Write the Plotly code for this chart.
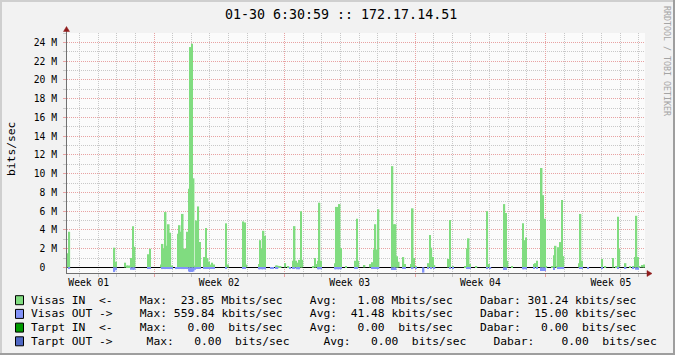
import plotly.graph_objects as go

# ---------------- data ----------------
title_text = "01-30 6:30:59 :: 172.17.14.51"
y_label = "bits/sec"
watermark = "RRDTOOL / TOBI OETIKER"

STEP_H = 2          # RRD consolidation step (hours)
span_h = 744        # graph span (hours)
week_start_h = [112, 280, 448, 616]
week_label_h = [28, 196, 364, 532, 700]
week_labels = ["Week 01", "Week 02", "Week 03", "Week 04", "Week 05"]
day_h = [16, 40, 64, 88, 136, 160, 184, 208, 232, 256, 304, 328, 352, 376,
         400, 424, 472, 496, 520, 544, 568, 592, 640, 664, 688, 712, 736]

y_tick_vals = [0, 2, 4, 6, 8, 10, 12, 14, 16, 18, 20, 22, 24]
y_tick_text = ["0\u00a0\u00a0", "2 M", "4 M", "6 M", "8 M", "10 M", "12 M",
               "14 M", "16 M", "18 M", "20 M", "22 M", "24 M"]

# (slot index since graph start, Mbit/s)
visas_in = [
    (0, 1.5), (1, 3.8),
    (30, 2.1), (31, 0.6),
    (37, 0.5), (38, 0.2), (39, 0.2), (40, 0.2), (41, 1.0), (42, 4.4), (43, 2.2),
    (52, 1.4), (53, 2.0),
    (60, 0.3), (61, 2.5), (62, 2.0), (63, 5.9), (64, 2.3), (65, 4.6), (66, 3.7), (67, 0.2),
    (71, 3.6), (72, 4.5), (73, 3.8), (74, 5.7), (75, 2.0), (76, 2.0), (77, 3.8), (78, 8.4),
    (79, 23.5), (80, 23.85), (81, 9.5), (82, 0.2), (83, 5.0), (84, 6.5), (85, 2.7),
    (88, 1.1), (89, 4.2), (90, 1.0), (91, 0.6), (92, 0.3), (93, 0.5), (94, 0.3),
    (102, 4.7), (103, 0.3),
    (113, 4.9), (114, 4.8), (115, 0.3),
    (123, 0.35), (124, 2.9), (125, 2.0), (126, 3.9), (127, 3.35),
    (134, 0.2), (135, 0.2), (136, 0.15), (137, 0.15),
    (140, 0.45), (142, 0.15),
    (145, 0.7), (146, 4.4), (147, 0.7), (148, 0.5), (149, 0.8), (150, 6.0), (151, 0.8),
    (158, 0.15), (159, 1.0), (160, 0.35), (161, 0.7), (162, 6.9), (163, 0.7),
    (172, 0.45), (173, 6.45), (174, 6.45), (175, 6.75), (176, 2.05),
    (179, 0.15),
    (185, 0.7), (186, 5.2), (187, 0.7),
    (191, 0.25),
    (195, 0.35), (196, 0.55), (197, 1.9), (198, 4.6), (199, 1.9), (200, 6.2),
    (209, 10.8), (210, 4.6), (211, 4.6), (212, 1.2), (213, 0.6),
    (216, 1.1), (217, 0.35),
    (221, 0.35), (222, 6.3), (223, 1.0), (224, 0.15),
    (232, 0.45), (233, 3.45), (234, 2.1), (235, 1.1), (236, 0.25),
    (245, 0.9), (246, 5.05), (248, 0.15),
    (256, 0.15), (257, 2.05), (258, 3.1), (259, 0.35), (263, 0.15),
    (270, 6.0), (271, 0.35),
    (281, 6.75), (282, 5.8), (283, 0.7), (286, 0.15),
    (293, 4.7), (294, 2.9), (295, 3.2),
    (300, 0.35), (301, 0.45), (302, 0.7),
    (305, 10.6), (306, 7.7), (307, 5.2), (308, 0.15),
    (312, 0.15), (313, 1.3), (314, 2.3), (315, 0.15), (316, 2.15), (317, 2.7), (318, 7.2), (319, 1.2),
    (329, 0.45), (330, 5.7), (331, 0.7),
    (344, 0.9), (346, 0.15),
    (351, 1.0), (353, 0.15), (354, 5.4), (355, 1.95),
    (359, 0.45), (362, 0.15), (364, 0.15), (365, 1.1), (366, 5.5), (367, 1.1), (368, 0.15),
    (370, 0.25), (371, 0.3),
]

visas_out = [
    (1, 0.18),
    (30, 0.5), (31, 0.3),
    (41, 0.25), (42, 0.25), (43, 0.25),
    (52, 0.15), (53, 0.15),
    (61, 0.18), (62, 0.18), (63, 0.18), (64, 0.18), (65, 0.18), (66, 0.18), (67, 0.18),
    (70, 0.18), (71, 0.18), (72, 0.18), (73, 0.18), (74, 0.18), (75, 0.18), (76, 0.18), (77, 0.18),
    (78, 0.45), (79, 0.5), (80, 0.5), (81, 0.45), (82, 0.25),
    (83, 0.15), (84, 0.15), (85, 0.15),
    (88, 0.15), (89, 0.15), (90, 0.15), (91, 0.15), (92, 0.15), (93, 0.15), (94, 0.15),
    (102, 0.15),
    (113, 0.15), (114, 0.15),
    (123, 0.2), (124, 0.2), (125, 0.2), (126, 0.2), (127, 0.2),
    (131, 0.1), (132, 0.1), (134, 0.1), (135, 0.1),
    (143, 0.15), (145, 0.15), (146, 0.15),
    (148, 0.2), (149, 0.2),
    (161, 0.2), (162, 0.2), (163, 0.2),
    (172, 0.2), (173, 0.2), (174, 0.2), (175, 0.2), (176, 0.2),
    (185, 0.18), (186, 0.18),
    (196, 0.15), (197, 0.15), (198, 0.15), (199, 0.15), (200, 0.15),
    (209, 0.28), (210, 0.28), (211, 0.28),
    (216, 0.15), (217, 0.15),
    (222, 0.18), (224, 0.15),
    (229, 0.56),
    (232, 0.15), (234, 0.18), (236, 0.15),
    (246, 0.15), (248, 0.15),
    (257, 0.18), (258, 0.18), (259, 0.18),
    (270, 0.18), (272, 0.15),
    (281, 0.28), (282, 0.28),
    (293, 0.2), (294, 0.2), (295, 0.2),
    (300, 0.18), (302, 0.18),
    (305, 0.39), (306, 0.39), (307, 0.39),
    (313, 0.28),
    (316, 0.18), (317, 0.18), (318, 0.18), (319, 0.18),
    (330, 0.15), (331, 0.15),
    (335, 0.15),
    (344, 0.18),
    (354, 0.15),
    (359, 0.15),
    (364, 0.15), (366, 0.25), (367, 0.25),
]

legend_colors = ["#80DC80", "#8292F8", "#009A00", "#5068C4"]
legend_rows = [
    "Visas IN  <-    Max:  23.85 Mbits/sec    Avg:   1.08 Mbits/sec    Dabar: 301.24 kbits/sec",
    "Visas OUT ->    Max: 559.84 kbits/sec    Avg:  41.48 kbits/sec    Dabar:  15.00 kbits/sec",
    "Tarpt IN  <-    Max:   0.00  bits/sec    Avg:   0.00  bits/sec    Dabar:   0.00  bits/sec",
    "Tarpt OUT ->     Max:   0.00  bits/sec     Avg:   0.00  bits/sec    Dabar:    0.00  bits/sec",
]

# ---------------- style ----------------
W, H = 675, 355
L, R, T, B = 67, 30, 33, 82
PW, PH = W - L - R, H - T - B
MONO = "DejaVu Sans Mono"
BACK = "#F2F2F2"
CANVAS = "#FBFBFB"
GRID = "#C8C8C8"
MGRID = "#E8A2A2"
AXIS = "#707070"
ARROW = "#901C1C"


def px(x):
    return (x - L) / PW


def py(y):
    return (H - B - y) / PH


fig = go.Figure()

in_slot = [s for s, v in visas_in]
in_val = [v for s, v in visas_in]
out_slot = [s for s, v in visas_out]
out_val = [v for s, v in visas_out]

fig.add_trace(go.Bar(
    x=[s * STEP_H + STEP_H / 2 for s in in_slot], y=in_val, width=STEP_H,
    marker=dict(color=legend_colors[0], line=dict(width=0)),
    xaxis="x", yaxis="y", hoverinfo="skip", showlegend=False))
fig.add_trace(go.Bar(
    x=[s * STEP_H + STEP_H / 2 for s in out_slot], y=[-v for v in out_val], width=STEP_H,
    marker=dict(color=legend_colors[1], line=dict(width=0)),
    xaxis="x2", yaxis="y", hoverinfo="skip", showlegend=False))

axis_font = dict(family=MONO, size=9.7, color="#000000")

fig.update_layout(
    width=W, height=H,
    margin=dict(l=L, r=R, t=T, b=B, pad=0),
    paper_bgcolor=BACK, plot_bgcolor=CANVAS,
    barmode="overlay", showlegend=False,
    font=dict(family=MONO, size=9.7, color="#000000"),
    xaxis=dict(
        range=[0, span_h], tickmode="array", tickvals=week_label_h, ticktext=week_labels,
        showgrid=False, ticks="", zeroline=False, showline=True, linecolor=AXIS, linewidth=1,
        tickfont=axis_font, ticklabelstandoff=0,
        minor=dict(tickmode="array", tickvals=day_h, showgrid=True, gridcolor=GRID,
                   griddash="1px,1px", gridwidth=1, ticks="outside", ticklen=3,
                   tickcolor=GRID),
    ),
    xaxis2=dict(
        overlaying="x", anchor="y", side="bottom", range=[0, span_h],
        tickmode="array", tickvals=week_start_h, showticklabels=False,
        showgrid=True, gridcolor=MGRID, griddash="1px,1px", gridwidth=1,
        ticks="outside", ticklen=3, tickcolor=MGRID, zeroline=False, showline=False,
    ),
    yaxis=dict(
        range=[-0.6, 25], tickmode="array", tickvals=y_tick_vals, ticktext=y_tick_text,
        ticks="outside", ticklen=3, tickcolor=MGRID, tickfont=axis_font,
        showgrid=True, gridcolor=MGRID, griddash="1px,1px", gridwidth=1,
        minor=dict(dtick=1, tick0=0, showgrid=True, gridcolor=GRID, griddash="1px,1px",
                   gridwidth=1, ticks="outside", ticklen=3, tickcolor=GRID),
        zeroline=True, zerolinecolor="#000000", zerolinewidth=1,
        showline=True, linecolor=AXIS, linewidth=1, ticklabelstandoff=4,
    ),
)

annotations = []
annotations.append(dict(
    text=title_text, xref="paper", yref="paper", x=px(341), y=py(14),
    xanchor="center", yanchor="middle", showarrow=False,
    font=dict(family=MONO, size=13.3, color="#000000")))
annotations.append(dict(
    text=y_label, xref="paper", yref="paper", x=px(11), y=py(149),
    xanchor="center", yanchor="middle", showarrow=False, textangle=-90,
    font=dict(family=MONO, size=11.3, color="#000000")))
annotations.append(dict(
    text=watermark, xref="paper", yref="paper", x=px(667), y=py(61),
    xanchor="center", yanchor="middle", showarrow=False, textangle=90,
    font=dict(family=MONO, size=8.3, color="#A4A4A4")))

legend_row_y = [300.2, 313.9, 327.6, 341.3]
shapes = []
for txt, col, yc in zip(legend_rows, legend_colors, legend_row_y):
    annotations.append(dict(
        text=txt.replace(" ", "\u00a0"), xref="paper", yref="paper",
        x=px(28.5), y=py(yc), xanchor="left", yanchor="middle", showarrow=False,
        font=dict(family=MONO, size=11.3, color="#000000")))
    shapes.append(dict(
        type="rect", xref="paper", yref="paper",
        x0=px(15.5), x1=px(23.5), y0=py(yc - 4.5), y1=py(yc + 4.5),
        fillcolor=col, line=dict(color="#000000", width=1)))

# frame (3D shading)
shapes += [
    dict(type="line", xref="paper", yref="paper", x0=px(0), x1=px(W), y0=py(1), y1=py(1),
         line=dict(color="#CFCFCF", width=2)),
    dict(type="line", xref="paper", yref="paper", x0=px(1), x1=px(1), y0=py(0), y1=py(H),
         line=dict(color="#CFCFCF", width=2)),
    dict(type="line", xref="paper", yref="paper", x0=px(0), x1=px(W), y0=py(H - 1), y1=py(H - 1),
         line=dict(color="#9E9E9E", width=2)),
    dict(type="line", xref="paper", yref="paper", x0=px(W - 1), x1=px(W - 1), y0=py(0), y1=py(H),
         line=dict(color="#9E9E9E", width=2)),
]

# axis extensions and arrows
shapes += [
    dict(type="line", xref="paper", yref="paper", x0=px(645), x1=px(648), y0=py(273.5), y1=py(273.5),
         line=dict(color=AXIS, width=1)),
    dict(type="line", xref="paper", yref="paper", x0=px(66.5), x1=px(66.5), y0=py(33), y1=py(30),
         line=dict(color=AXIS, width=1)),
    dict(type="path", xref="paper", yref="paper",
         path=f"M {px(647)},{py(270.5)} L {px(652)},{py(273.5)} L {px(647)},{py(276.5)} Z",
         fillcolor=ARROW, line=dict(color=ARROW, width=0.5)),
    dict(type="path", xref="paper", yref="paper",
         path=f"M {px(63.5)},{py(31.5)} L {px(66.5)},{py(26.5)} L {px(69.5)},{py(31.5)} Z",
         fillcolor=ARROW, line=dict(color=ARROW, width=0.5)),
]

fig.update_layout(annotations=annotations, shapes=shapes)

fig.write_html("out.html")
